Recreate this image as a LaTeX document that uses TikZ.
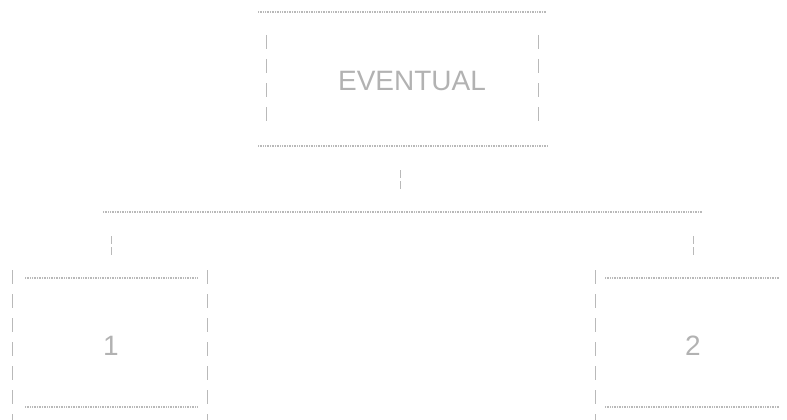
\documentclass[tikz,border=0pt]{standalone}
\usepackage{fontspec}
\setmainfont{Liberation Sans}
\begin{document}
\begin{tikzpicture}[x=1pt,y=-1pt,
  hline/.style={draw=gray!55, line width=1.3pt, dash pattern=on 0.7pt off 1pt},
  vline/.style={draw=gray!55, line width=0.8pt, dash pattern=on 14pt off 10pt},
  conn/.style={draw=gray!55, line width=0.8pt, dash pattern=on 8pt off 3pt},
  lbl/.style={text=gray!60, inner sep=0pt, font=\fontsize{28}{32}\selectfont}]
\useasboundingbox (0,0) rectangle (787,420);
% top box
\node[lbl] (ev) at (412,81) {EVENTUAL};
\draw[hline] (258,12) -- (546,12);
\draw[hline] (258,146) -- (548,146);
\draw[vline] (266,35) -- (266,122);
\draw[vline] (538,35) -- (538,122);
% connectors
\coordinate (t1) at (400,170);
\coordinate (t2) at (400,191);
\draw[conn] (t1) -- (t2);
\coordinate (busl) at (103,212);
\coordinate (busr) at (702,212);
\draw[hline] (busl) -- (busr);
\coordinate (l1) at (111,236);
\coordinate (l2) at (111,256);
\coordinate (r1) at (693,236);
\coordinate (r2) at (693,256);
\draw[conn] (l1) -- (l2);
\draw[conn] (r1) -- (r2);
% left box
\node[lbl] (one) at (111,346) {1};
\draw[hline] (25,278) -- (197,278);
\draw[hline] (25,407) -- (197,407);
\draw[vline] (12,270) -- (12,420);
\draw[vline] (207,270) -- (207,420);
% right box
\node[lbl] (two) at (693,346) {2};
\draw[hline] (605,278) -- (780,278);
\draw[hline] (605,407) -- (780,407);
\draw[vline] (595,270) -- (595,420);
\end{tikzpicture}
\end{document}
